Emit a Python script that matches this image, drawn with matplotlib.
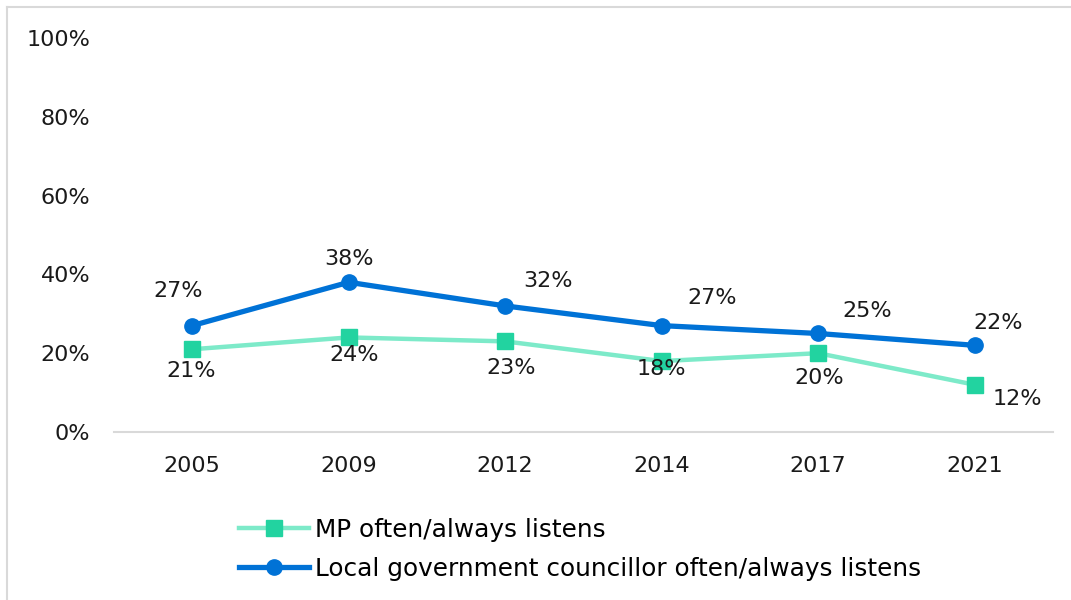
import numpy as np
from matplotlib import pyplot as plt
from matplotlib.lines import Line2D
from matplotlib.ticker import PercentFormatter

plt.rcParams['font.family'] = ['DejaVu Sans']

years = ["2005", "2009", "2012", "2014", "2017", "2021"]
mp_listens = [21, 24, 23, 18, 20, 12]
councillor_listens = [27, 38, 32, 27, 25, 22]

mp_offsets = [(-1, -16), (4, -13), (4, -19), (0, -6), (1, -18), (31, -10)]
councillor_offsets = [(-10, 25), (0, 17), (31, 18), (36, 20), (35, 16), (17, 16)]

blue = "#0072D6"
green_line = "#7DEAC9"
green_mark = "#22D3A0"
text_col = "#1a1a1a"

fig = plt.figure(figsize=(10.71, 6.0), dpi=100)
ax = fig.add_axes([0.1064, 0.28, 0.8767, 0.6567])

x = np.arange(len(years))
ax.plot(x, mp_listens, color=green_line, lw=3.2, marker="s", ms=12,
        mfc=green_mark, mec=green_mark, label="MP often/always listens")
ax.plot(x, councillor_listens, color=blue, lw=3.8, marker="o", ms=11,
        mfc=blue, mec=blue, label="Local government councillor often/always listens")

for i, v in enumerate(mp_listens):
    ax.annotate(f"{v}%", (x[i], v), xytext=mp_offsets[i], textcoords="offset points",
                ha="center", va="center", fontsize=16, color=text_col)
for i, v in enumerate(councillor_listens):
    ax.annotate(f"{v}%", (x[i], v), xytext=councillor_offsets[i], textcoords="offset points",
                ha="center", va="center", fontsize=16, color=text_col)

ax.set_xlim(-0.5, len(years) - 0.5)
ax.set_ylim(0, 100)
ax.set_xticks(x)
ax.set_xticklabels(years)
ax.set_yticks([0, 20, 40, 60, 80, 100])
ax.yaxis.set_major_formatter(PercentFormatter(decimals=0))
ax.tick_params(axis="both", length=0, labelsize=16, colors=text_col)
ax.tick_params(axis="x", pad=17)
ax.tick_params(axis="y", pad=17)
for side in ["top", "right", "left"]:
    ax.spines[side].set_visible(False)
ax.spines["bottom"].set_color("#d9d9d9")
ax.spines["bottom"].set_linewidth(1.5)

fig.legend(loc="upper left", bbox_to_anchor=(0.212, 0.158), frameon=False,
           fontsize=17.8, handlelength=2.8, handletextpad=0.25, labelspacing=0.62,
           borderpad=0)

# chart-area border: only top and left edges fall inside the image
bx, by = 7 / 1071, 1 - 7 / 600
fig.add_artist(Line2D([bx, 1.0], [by, by], transform=fig.transFigure,
                      color="#d9d9d9", lw=1.5))
fig.add_artist(Line2D([bx, bx], [0.0, by], transform=fig.transFigure,
                      color="#d9d9d9", lw=1.5))

fig.savefig("out.png", dpi=100)
